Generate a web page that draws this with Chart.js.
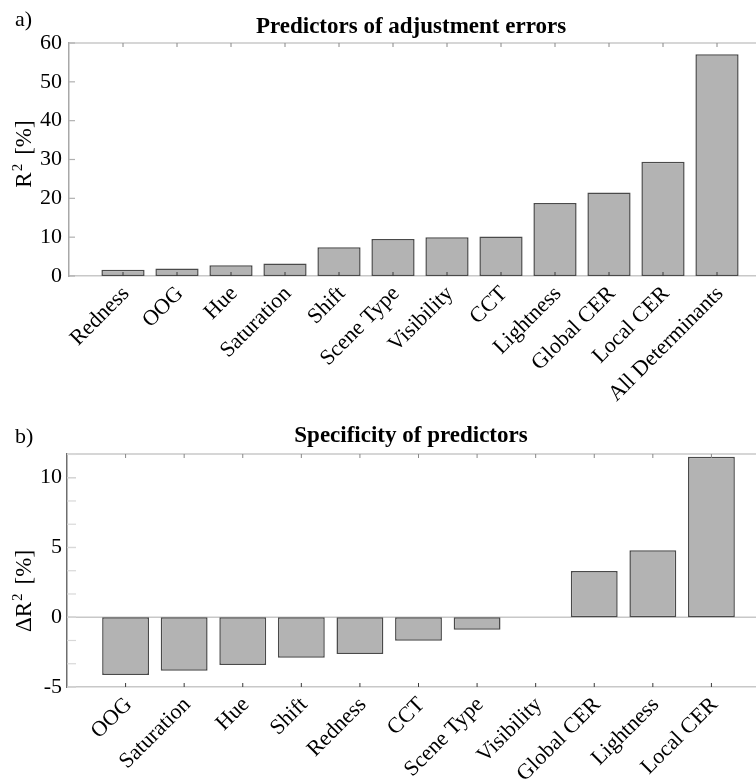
<!DOCTYPE html>
<html>
<head>
<meta charset="utf-8">
<script src="https://cdn.jsdelivr.net/npm/chart.js@4.4.1/dist/chart.umd.min.js"></script>
<style>
  html, body { margin: 0; padding: 0; background: #fff; }
  body { width: 756px; height: 784px; overflow: hidden; position: relative; }
  canvas { position: absolute; left: 0; }
  #chartA { top: 0; }
  #chartB { top: 380px; }
</style>
</head>
<body>
<canvas id="chartA" width="800" height="420"></canvas>
<canvas id="chartB" width="800" height="404"></canvas>
<script>
// Panel a) - explained variance of each predictor
const predictorsA = ['Redness', 'OOG', 'Hue', 'Saturation', 'Shift', 'Scene Type', 'Visibility', 'CCT', 'Lightness', 'Global CER', 'Local CER', 'All Determinants'];
const r2Values = [1.6, 1.9, 2.8, 3.2, 7.4, 9.5, 10.0, 10.2, 18.8, 21.5, 29.4, 57.1];
const r2Ticks = [0, 10, 20, 30, 40, 50, 60];

// Panel b) - specificity (change in R²) of each predictor
const predictorsB = ['OOG', 'Saturation', 'Hue', 'Shift', 'Redness', 'CCT', 'Scene Type', 'Visibility', 'Global CER', 'Lightness', 'Local CER'];
const deltaR2Values = [-4.14, -3.83, -3.43, -2.90, -2.64, -1.69, -0.90, 0, 3.31, 4.81, 11.5];
const deltaR2Ticks = [-5, 0, 5, 10];

const SERIF = '"Liberation Serif", "Times New Roman", serif';
const BAR_FILL = '#b3b3b3';
const BAR_EDGE = '#4a4a4a';
const FRAME = '#c8c8c8';

// Empty slots at both ends leave one category width of space before the first bar and after the last one
const padCats = cats => ['', ...cats, ''];
const padVals = vals => [null, ...vals, null];

// Draws a label made of runs [text, fontSize, raise, gapAfter] centred on the current origin
function drawRuns(ctx, runs) {
  let total = 0;
  const widths = runs.map(([t, size, , gap]) => {
    ctx.font = size + 'px ' + SERIF;
    const w = ctx.measureText(t).width + (gap || 0);
    total += w;
    return w;
  });
  let x = -total / 2;
  ctx.textAlign = 'left';
  ctx.textBaseline = 'alphabetic';
  runs.forEach(([t, size, raise], i) => {
    ctx.font = size + 'px ' + SERIF;
    ctx.fillText(t, x, 7 - (raise || 0));
    x += widths[i];
  });
}

// Frame line, inward tick marks, zero baseline and panel annotations
const frameAndText = {
  id: 'frameAndText',
  beforeDatasetsDraw(chart, args, o) {
    const {ctx, chartArea: a, scales: {y}} = chart;
    ctx.save();
    ctx.strokeStyle = FRAME;
    ctx.lineWidth = 1.5;
    if (o.baseline) {
      const y0 = y.getPixelForValue(0);
      ctx.beginPath(); ctx.moveTo(a.left, y0); ctx.lineTo(chart.width, y0); ctx.stroke();
    }
    ctx.restore();
  },
  afterDatasetsDraw(chart, args, o) {
    const {ctx, chartArea: a, scales: {x, y}} = chart;
    ctx.save();
    // top edge of the axes box
    ctx.strokeStyle = FRAME;
    ctx.lineWidth = 1.5;
    ctx.beginPath(); ctx.moveTo(a.left, a.top); ctx.lineTo(chart.width, a.top); ctx.stroke();

    // category ticks, pointing inward from bottom and top
    x.ticks.forEach((t, i) => {
      if (!chart.data.labels[i]) return;
      const px = x.getPixelForTick(i);
      ctx.strokeStyle = '#3a3a3a';
      ctx.lineWidth = 1;
      ctx.beginPath(); ctx.moveTo(px, a.bottom); ctx.lineTo(px, a.bottom - 4); ctx.stroke();
      ctx.strokeStyle = '#888';
      ctx.beginPath(); ctx.moveTo(px, a.top); ctx.lineTo(px, a.top + 4); ctx.stroke();
    });

    // value ticks, pointing inward from the left
    ctx.strokeStyle = o.yTickColor;
    ctx.lineWidth = 1.2;
    y.ticks.forEach(t => {
      const py = y.getPixelForValue(t.value);
      ctx.beginPath(); ctx.moveTo(a.left, py); ctx.lineTo(a.left + o.yTickLen, py); ctx.stroke();
    });
    if (o.minorDiv) {
      const step = (deltaR2Ticks[1] - deltaR2Ticks[0]) / o.minorDiv;
      ctx.strokeStyle = '#d8d8d8';
      for (let v = y.min; v <= y.max + 1e-9; v += step) {
        const py = y.getPixelForValue(v);
        ctx.beginPath(); ctx.moveTo(a.left, py); ctx.lineTo(a.left + o.yTickLen, py); ctx.stroke();
      }
    }

    // panel letter and title
    ctx.fillStyle = '#000';
    ctx.textBaseline = 'middle';
    ctx.font = '22px ' + SERIF;
    ctx.textAlign = 'left';
    ctx.fillText(o.letter, o.letterX, o.letterY);
    ctx.font = 'bold 23px ' + SERIF;
    ctx.textAlign = 'center';
    ctx.fillText(o.title, o.titleX, o.titleY);

    // y-axis title with a raised exponent
    ctx.translate(o.yTitleX, o.yTitleY);
    ctx.rotate(-Math.PI / 2);
    drawRuns(ctx, o.yTitleRuns);
    ctx.restore();
  }
};

function makeChart(id, cats, vals, ticks, yMin, yMax, geo, text) {
  return new Chart(document.getElementById(id), {
    type: 'bar',
    data: {
      labels: padCats(cats),
      datasets: [{
        data: padVals(vals),
        backgroundColor: BAR_FILL,
        borderColor: BAR_EDGE,
        borderWidth: 1.5,
        borderSkipped: false,
        barPercentage: 0.8,
        categoryPercentage: 1.0
      }]
    },
    options: {
      responsive: false,
      animation: false,
      devicePixelRatio: 1,
      layout: { padding: { left: 0, right: geo.padRight, top: geo.padTop, bottom: 0 } },
      plugins: {
        legend: { display: false },
        tooltip: { enabled: false },
        title: { display: false },
        frameAndText: text
      },
      scales: {
        x: {
          type: 'category',
          offset: false,
          grid: { display: false, drawTicks: false },
          border: { display: true, color: FRAME, width: 1.5 },
          ticks: {
            autoSkip: false, minRotation: 45, maxRotation: 45,
            padding: geo.xPad, labelOffset: geo.xLabelOffset,
            color: '#000', font: { family: SERIF, size: 22 }
          },
          afterFit: s => { s.height = geo.xHeight; }
        },
        y: {
          min: yMin, max: yMax,
          grid: { display: false, drawTicks: false },
          border: { display: true, color: geo.yAxisColor, width: 1.5 },
          ticks: { padding: geo.yPad, color: '#000', font: { family: SERIF, size: 22 }, includeBounds: false },
          afterBuildTicks: s => { s.ticks = ticks.map(v => ({ value: v })); },
          afterFit: s => { s.width = geo.yWidth; }
        }
      }
    },
    plugins: [frameAndText]
  });
}

makeChart('chartA', predictorsA, r2Values, r2Ticks, 0, 60,
  { padRight: 29, padTop: 43, xHeight: 144, yWidth: 69, xPad: 5, xLabelOffset: 3, yPad: 7, yAxisColor: '#a8a8a8' },
  { letter: 'a)', letterX: 15, letterY: 20, title: 'Predictors of adjustment errors', titleX: 411, titleY: 27,
    yTitleRuns: [['R', 23, 0, 1], ['2', 15, 9, 9], ['[%]', 23, 0, 0]],
    yTitleX: 24, yTitleY: 154, yTickLen: 6, yTickColor: '#b0b0b0', baseline: false, minorDiv: 0 });

makeChart('chartB', predictorsB, deltaR2Values, deltaR2Ticks, -5, 11.7,
  { padRight: 30, padTop: 74, xHeight: 97, yWidth: 67, xPad: 5, xLabelOffset: 3, yPad: 5, yAxisColor: '#6e6e6e' },
  { letter: 'b)', letterX: 15, letterY: 57, title: 'Specificity of predictors', titleX: 411, titleY: 56,
    yTitleRuns: [['ΔR', 23, 0, 1], ['2', 15, 9, 9], ['[%]', 23, 0, 0]],
    yTitleX: 24, yTitleY: 211, yTickLen: 9, yTickColor: '#c8c8c8', baseline: true, minorDiv: 3 });
</script>
</body>
</html>
